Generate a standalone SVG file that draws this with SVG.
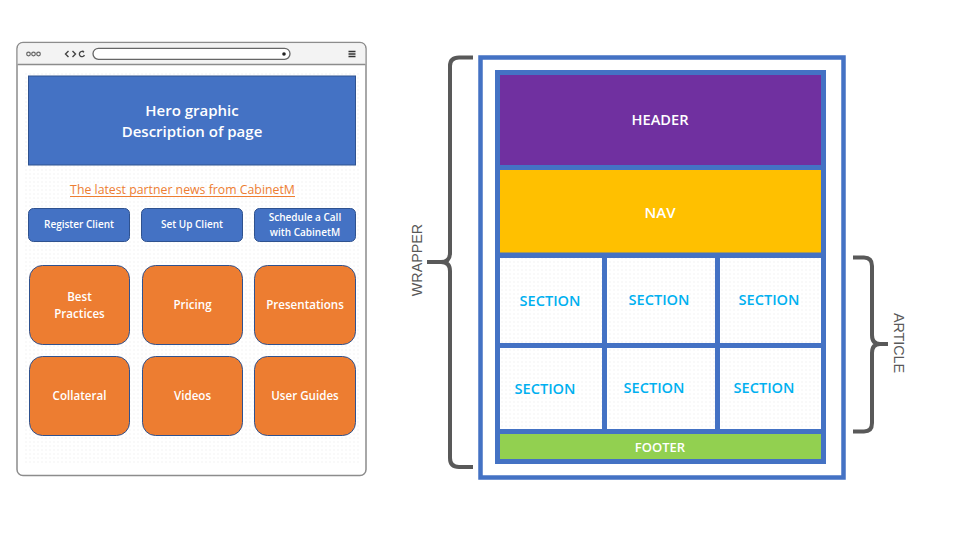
<svg xmlns="http://www.w3.org/2000/svg" width="960" height="540" viewBox="0 0 960 540">
  <defs>
    <pattern id="dots" width="4" height="4" patternUnits="userSpaceOnUse">
      <rect x="1.5" y="1.5" width="1" height="1" fill="#e6e6e6"/>
    </pattern>
    <style>
      .lbl { font-family: "Open Sans", "Noto Sans", "Liberation Sans", sans-serif; text-anchor: middle; }
      .hero { fill: #4472c4; stroke: #2f528f; stroke-width: 1; }
      .btn { fill: #4472c4; stroke: #2f528f; stroke-width: 1; }
      .tile { fill: #ed7d31; stroke: #2f528f; stroke-width: 1; }
      .wt { fill: #ffffff; font-weight: 600; }
      .sec { fill: #00b0f0; font-size: 14.6px; font-weight: 600; }
      .cell { fill: #ffffff; }
      .brace { fill: none; stroke: #595959; stroke-width: 4; stroke-linecap: butt; stroke-linejoin: round; }
      .side { font-family: "Liberation Sans", Arial, sans-serif; font-size: 14.3px; fill: #595959; text-anchor: middle; }
      .chrome { fill: none; stroke: #666666; stroke-width: 1.2; }
    </style>
  </defs>

  <rect width="960" height="540" fill="#ffffff"/>

  <!-- Browser mock-up -->
  <g id="browser">
    <rect x="17" y="42.5" width="349" height="433" rx="6" fill="#ffffff" stroke="#8c8c8c" stroke-width="1.5"/>
    <path d="M17.75 64 V49 Q17.75 43.25 23 43.25 H360 Q365.25 43.25 365.25 49 V64 Z" fill="#f3f3f3"/>
    <line x1="17.75" y1="64.5" x2="365.25" y2="64.5" stroke="#8c8c8c" stroke-width="1.5"/>
    <circle cx="28.5" cy="54" r="1.8" class="chrome"/>
    <circle cx="33.5" cy="54" r="1.8" class="chrome"/>
    <circle cx="38.5" cy="54" r="1.8" class="chrome"/>
    <path d="M68.5 51 L65.5 54 L68.5 57 M72.5 51 L75.5 54 L72.5 57" fill="none" stroke="#444" stroke-width="1.4"/>
    <path d="M83.8 52.2 A2.6 2.6 0 1 0 84.4 55 M82.5 50.8 L84 52.3" fill="none" stroke="#444" stroke-width="1.3"/>
    <rect x="93" y="48.3" width="197" height="11" rx="5.5" fill="#ffffff" stroke="#666666" stroke-width="1.3"/>
    <circle cx="284" cy="54" r="1.8" fill="#222"/>
    <path d="M348.5 51.5 H355.5 M348.5 54 H355.5 M348.5 56.5 H355.5" stroke="#333" stroke-width="1.3"/>
    <rect x="25" y="73" width="334" height="391" fill="url(#dots)"/>
  </g>

  <g id="hero">
    <rect class="hero" x="28.5" y="76" width="327" height="89"/>
    <text class="lbl wt" x="192" y="116" font-size="15">Hero graphic</text>
    <text class="lbl wt" x="192" y="137" font-size="15">Description of page</text>
  </g>

  <g id="news-link">
    <text class="lbl" x="182.5" y="193.5" font-size="12.3" fill="#ed7d31">The latest partner news from CabinetM</text>
    <line x1="70" y1="196.5" x2="295" y2="196.5" stroke="#ed7d31" stroke-width="1.2"/>
  </g>

  <g id="btn-register">
    <rect class="btn" x="28.5" y="208.5" width="101" height="33" rx="5"/>
    <text class="lbl wt" x="79" y="228" font-size="10">Register Client</text>
  </g>
  <g id="btn-setup">
    <rect class="btn" x="141.5" y="208.5" width="101" height="33" rx="5"/>
    <text class="lbl wt" x="192" y="228" font-size="10">Set Up Client</text>
  </g>
  <g id="btn-schedule">
    <rect class="btn" x="254.5" y="208.5" width="101" height="33" rx="5"/>
    <text class="lbl wt" x="305" y="221" font-size="10">Schedule a Call</text>
    <text class="lbl wt" x="305" y="235.5" font-size="10">with CabinetM</text>
  </g>

  <g id="tile-best-practices">
    <rect class="tile" x="29.5" y="265.5" width="100" height="79" rx="13"/>
    <text class="lbl wt" x="79.5" y="301" font-size="11.6">Best</text>
    <text class="lbl wt" x="79.5" y="317.5" font-size="11.6">Practices</text>
  </g>
  <g id="tile-pricing">
    <rect class="tile" x="142.5" y="265.5" width="100" height="79" rx="13"/>
    <text class="lbl wt" x="192.5" y="309" font-size="11.6">Pricing</text>
  </g>
  <g id="tile-presentations">
    <rect class="tile" x="254.5" y="265.5" width="101" height="79" rx="13"/>
    <text class="lbl wt" x="305" y="309" font-size="11.6">Presentations</text>
  </g>
  <g id="tile-collateral">
    <rect class="tile" x="29.5" y="356.5" width="100" height="79" rx="13"/>
    <text class="lbl wt" x="79.5" y="400" font-size="11.6">Collateral</text>
  </g>
  <g id="tile-videos">
    <rect class="tile" x="142.5" y="356.5" width="100" height="79" rx="13"/>
    <text class="lbl wt" x="192.5" y="400" font-size="11.6">Videos</text>
  </g>
  <g id="tile-user-guides">
    <rect class="tile" x="254.5" y="356.5" width="101" height="79" rx="13"/>
    <text class="lbl wt" x="305" y="400" font-size="11.6">User Guides</text>
  </g>

  <!-- Page layout blocks -->
  <g id="wrapper">
    <rect x="480.5" y="57.5" width="363" height="420" fill="#ffffff" stroke="#4472c4" stroke-width="4.5"/>
  </g>
  <g id="article">
    <rect x="495" y="70" width="331" height="394" fill="#4472c4"/>
  </g>
  <g id="header">
    <rect x="500" y="75" width="321" height="90" fill="#7030a0"/>
    <text class="lbl wt" x="660" y="125" font-size="14.6">HEADER</text>
  </g>
  <g id="nav">
    <rect x="500" y="170" width="321" height="82.5" fill="#ffc000"/>
    <text class="lbl wt" x="660" y="218" font-size="15">NAV</text>
  </g>
  <g id="section-1">
    <rect class="cell" x="500" y="258" width="102" height="85"/>
    <rect x="500" y="258" width="102" height="85" fill="url(#dots)"/>
    <text class="lbl sec" x="550" y="306">SECTION</text>
  </g>
  <g id="section-2">
    <rect class="cell" x="607" y="258" width="108" height="85"/>
    <rect x="607" y="258" width="108" height="85" fill="url(#dots)"/>
    <text class="lbl sec" x="659" y="305">SECTION</text>
  </g>
  <g id="section-3">
    <rect class="cell" x="720" y="258" width="101" height="85"/>
    <rect x="720" y="258" width="101" height="85" fill="url(#dots)"/>
    <text class="lbl sec" x="769" y="305">SECTION</text>
  </g>
  <g id="section-4">
    <rect class="cell" x="500" y="348" width="102" height="81"/>
    <rect x="500" y="348" width="102" height="81" fill="url(#dots)"/>
    <text class="lbl sec" x="545" y="394">SECTION</text>
  </g>
  <g id="section-5">
    <rect class="cell" x="607" y="348" width="108" height="81"/>
    <rect x="607" y="348" width="108" height="81" fill="url(#dots)"/>
    <text class="lbl sec" x="654" y="393">SECTION</text>
  </g>
  <g id="section-6">
    <rect class="cell" x="720" y="348" width="101" height="81"/>
    <rect x="720" y="348" width="101" height="81" fill="url(#dots)"/>
    <text class="lbl sec" x="764" y="393">SECTION</text>
  </g>
  <g id="footer">
    <rect x="500" y="434" width="321" height="25" fill="#92d050"/>
    <text class="lbl wt" x="660" y="451.5" font-size="13">FOOTER</text>
  </g>

  <!-- Braces marking the wrapper and article extents -->
  <g id="connectors">
    <path class="brace" d="M473 57.5 H459 Q450 57.5 450 66 V253 Q450 262 441 262 H427 M441 262 Q450 262 450 271 V458 Q450 467 459 467 H473"/>
    <path class="brace" d="M853 257.5 H864 Q872 257.5 872 266 V335 Q872 344 880 344 H888 M880 344 Q872 344 872 353 V423 Q872 431.5 864 431.5 H853"/>
  </g>

  <g id="label-wrapper">
    <text class="side" transform="translate(422 260) rotate(-90)">WRAPPER</text>
  </g>
  <g id="label-article">
    <text class="side" transform="translate(894 343) rotate(90)">ARTICLE</text>
  </g>
</svg>
